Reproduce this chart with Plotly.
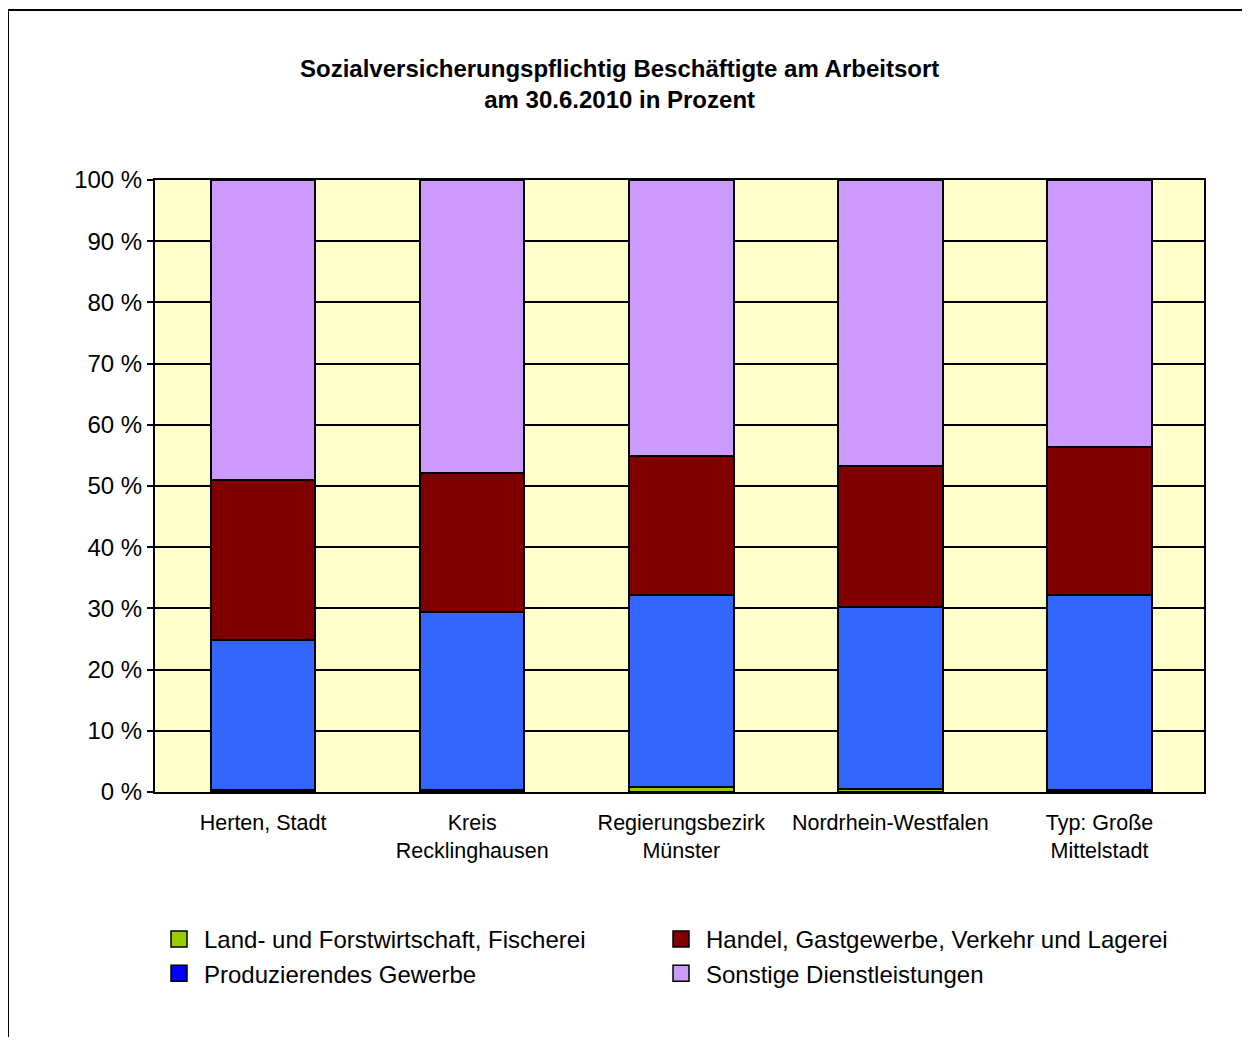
import plotly.graph_objects as go

categories = ["Herten, Stadt", "Kreis<br>Recklinghausen", "Regierungsbezirk<br>Münster",
              "Nordrhein-Westfalen", "Typ: Große<br>Mittelstadt"]
land = [0.3, 0.4, 0.8, 0.5, 0.3]
produzierendes = [24.5, 29.0, 31.4, 29.7, 31.9]
handel = [26.2, 22.7, 22.7, 23.1, 24.2]
sonstige = [49.0, 47.9, 45.1, 46.7, 43.6]

series = [
    ("Land- und Forstwirtschaft, Fischerei", land, "#99CC00", "#99CC00", "legend"),
    ("Produzierendes Gewerbe", produzierendes, "#3366FF", "#0000FF", "legend"),
    ("Handel, Gastgewerbe, Verkehr und Lagerei", handel, "#800000", "#800000", "legend2"),
    ("Sonstige Dienstleistungen", sonstige, "#CC99FF", "#CC99FF", "legend2"),
]

fig = go.Figure()
for name, vals, col, _, _ in series:
    fig.add_trace(go.Bar(x=categories, y=vals, name=name, marker_color=col,
                         marker_line_color="black", marker_line_width=2,
                         showlegend=False))
for name, _, _, lcol, leg in series:
    fig.add_trace(go.Scatter(x=[None], y=[None], name=name, mode="markers",
                             marker=dict(symbol="square", size=18, color=lcol,
                                         line=dict(color="black", width=1.5)),
                             showlegend=True, legend=leg, hoverinfo="skip"))

# page offset (body margin) of 8 px
OFF = 8
L, T, R, B = 155 - OFF, 180 - OFF, 1204 - OFF, 792 - OFF
W, H = 1236, 1029
pw, ph = R - L, B - T

legend_common = dict(orientation="v", xanchor="left", yanchor="top", itemwidth=40,
                     font=dict(size=24), traceorder="normal", tracegroupgap=0,
                     itemclick=False, bgcolor="rgba(0,0,0,0)")
leg_y = (B - (917 - OFF)) / ph

fig.update_layout(
    width=W, height=H,
    margin=dict(l=L, r=W - R, t=T, b=H - B, autoexpand=False),
    barmode="stack", bargap=0.5,
    plot_bgcolor="#FFFFCC", paper_bgcolor="white",
    font=dict(family="Liberation Sans, Arial, sans-serif", color="black"),
    showlegend=True,
    legend=dict(x=(154 - OFF - L) / pw, y=leg_y, **legend_common),
    legend2=dict(x=(656 - OFF - L) / pw, y=leg_y, **legend_common),
    annotations=[dict(text="<b>Sozialversicherungspflichtig Beschäftigte am Arbeitsort<br>am 30.6.2010 in Prozent</b>",
                      xref="paper", yref="paper", x=(619 - OFF - L) / pw, y=(B - (84 - OFF)) / ph,
                      xanchor="center", yanchor="middle", showarrow=False,
                      font=dict(size=24))],
    shapes=[dict(type="rect", xref="paper", yref="paper",
                 x0=(8 - OFF - L) / pw, x1=(1243 - OFF - L) / pw,
                 y0=(B - 1080) / ph, y1=(B - (10 - OFF)) / ph,
                 line=dict(color="black", width=2), layer="below")],
)
fig.update_yaxes(range=[0, 100], tickvals=list(range(0, 101, 10)),
                 ticktext=[f"{v} %" for v in range(0, 101, 10)],
                 showgrid=True, gridcolor="black", gridwidth=2,
                 showline=True, linecolor="black", linewidth=2, mirror=True,
                 ticks="outside", ticklen=6, tickcolor="black", tickwidth=2,
                 tickfont=dict(size=24), zeroline=False)
fig.update_xaxes(range=[-0.517, 4.5], showline=True, linecolor="black", linewidth=2, mirror=True,
                 tickfont=dict(size=21.5), ticklabelstandoff=10)

fig.write_html("out.html")
